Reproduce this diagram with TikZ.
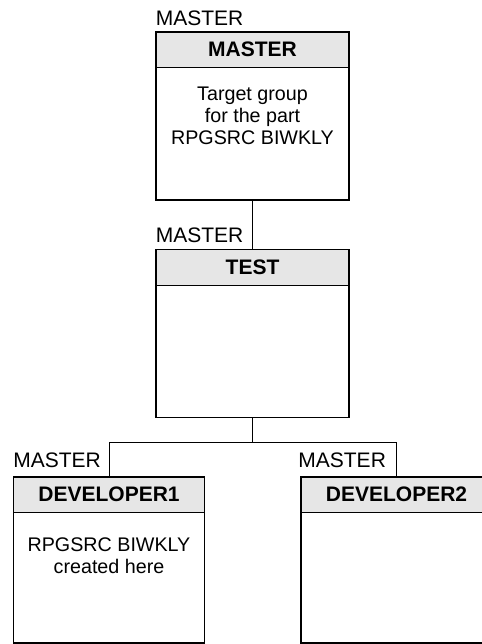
\documentclass[tikz,border=0pt]{standalone}
\usepackage{fontspec}
\setmainfont{Liberation Sans}
\usetikzlibrary{calc}
\definecolor{hdrgray}{HTML}{E6E6E6}
\begin{document}
\begin{tikzpicture}[x=1pt,y=1pt,
  grp/.style={draw, line width=1.6pt, minimum height=168pt, inner sep=0pt},
  hdr/.style={fill=hdrgray, draw, line width=0.8pt, minimum height=36pt,
              inner sep=0pt, font=\fontsize{21}{24}\selectfont\bfseries},
  body/.style={align=center, inner sep=0pt, font=\fontsize{19.7}{22}\selectfont},
  lbl/.style={inner sep=0pt, font=\fontsize{21}{24}\selectfont},
  wire/.style={draw, line width=0.8pt}]
\useasboundingbox (0,0) rectangle (481,-644);

% group boxes: a shaded title bar, then the framed body
\coordinate (mtop) at (252.5,-31);
\node[hdr, minimum width=193pt, anchor=north] (mh) at (mtop) {MASTER};
\node[grp, minimum width=193pt, anchor=north] (m) at (mtop) {};

\coordinate (ttop) at (252.5,-248.5);
\node[hdr, minimum width=193pt, anchor=north] (th) at (ttop) {TEST};
\node[grp, minimum width=193pt, anchor=north] (t) at (ttop) {};

\coordinate (d1top) at (109,-476);
\node[hdr, minimum width=191pt, anchor=north] (d1h) at (d1top) {DEVELOPER1};
\node[grp, minimum width=191pt, minimum height=166pt, anchor=north] (d1) at (d1top) {};

\coordinate (d2top) at (396.5,-476);
\node[hdr, minimum width=191pt, anchor=north] (d2h) at (d2top) {DEVELOPER2};
\node[grp, minimum width=191pt, minimum height=166pt, anchor=north] (d2) at (d2top) {};

% body texts
\node[body, anchor=north] (mtxt) at ($(mh.south)+(0,-19)$)
  {Target group\\for the part\\RPGSRC BIWKLY};
\node[body, anchor=north] (d1txt) at ($(d1h.south)+(0,-25)$)
  {RPGSRC BIWKLY\\created here};

% "MASTER" captions above each box
\node[lbl, anchor=base west] (ml) at ($(m.north west)+(0.5,5)$) {MASTER};
\node[lbl, anchor=base west] (tl) at ($(t.north west)+(0.5,6.5)$) {MASTER};
\node[lbl, anchor=base west] (d1l) at ($(d1.north west)+(0.5,8.5)$) {MASTER};
\node[lbl, anchor=base west] (d2l) at ($(d2.north west)+(-2,8.5)$) {MASTER};

% hierarchy connectors
\path[wire] (m.south) -- (t.north);
\coordinate (split) at ($(t.south)+(0,-24)$);
\path[wire] (t.south) -- (split);
\path[wire] (split) -| (d1.north);
\path[wire] (split) -| (d2.north);
\end{tikzpicture}
\end{document}
